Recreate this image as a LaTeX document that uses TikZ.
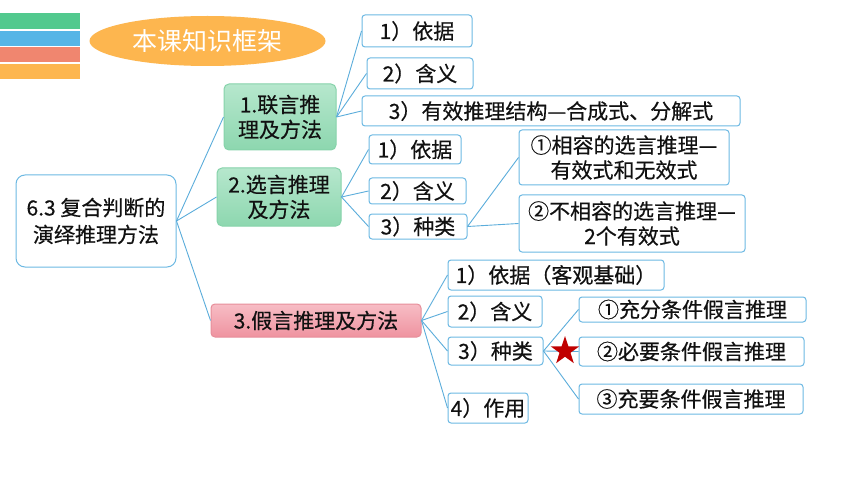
\documentclass[tikz,border=0pt]{standalone}
\usepackage{fontspec}
\setmainfont{Noto Sans CJK SC}
\newfontfamily\bodyfont{Noto Sans CJK SC}[FakeBold=0.4]
\usetikzlibrary{shapes.geometric}
\definecolor{bordblue}{HTML}{6DB9E3}
\definecolor{linkblue}{HTML}{5BADDB}
\definecolor{txt}{HTML}{111111}
\definecolor{barA}{HTML}{52C98E}
\definecolor{barB}{HTML}{56B5E6}
\definecolor{barC}{HTML}{F0866F}
\definecolor{barD}{HTML}{FDB64F}
\definecolor{greenT}{HTML}{B6E7CD}
\definecolor{greenB}{HTML}{8DD7AF}
\definecolor{greenD}{HTML}{86D3AA}
\definecolor{pinkT}{HTML}{F7BDC5}
\definecolor{pinkB}{HTML}{EF93A0}
\definecolor{pinkD}{HTML}{E78E9A}
\definecolor{starred}{HTML}{C00000}
\tikzset{
  leafbox/.style={draw=bordblue, line width=1pt, rounded corners=3pt, fill=white,
    inner sep=0pt, align=center, text=txt, font=\bodyfont\fontsize{21}{25}\selectfont},
  greenbox/.style={draw=greenD, line width=1pt, rounded corners=5pt,
    top color=greenT, bottom color=greenB, inner sep=0pt, align=center, text=txt,
    font=\bodyfont\fontsize{21}{25}\selectfont},
  pinkbox/.style={draw=pinkD, line width=1pt, rounded corners=4pt,
    top color=pinkT, bottom color=pinkB, inner sep=0pt, align=center, text=txt,
    font=\bodyfont\fontsize{21}{25}\selectfont},
  rootbox/.style={draw=bordblue, line width=1pt, rounded corners=9pt, fill=white,
    inner sep=0pt, align=center, text=txt, font=\bodyfont\fontsize{21}{27}\selectfont},
  link/.style={draw=linkblue, line width=0.9pt},
}
\begin{document}
\begin{tikzpicture}[x=1pt,y=-1pt]
\useasboundingbox (0,0) rectangle (860,484);
\fill[white] (0,0) rectangle (860,484);
% colour bars
\fill[barA] (0,13) rectangle (80,29);
\fill[barB] (0,31) rectangle (80,46);
\fill[barC] (0,47.5) rectangle (80,62);
\fill[barD] (0,64) rectangle (80,79);
% title
\node[ellipse, fill=barD, minimum width=236pt, minimum height=50pt, inner sep=0pt,
  text=white, font=\fontsize{25}{28}\selectfont] (title) at (207.5,41) {本课知识框架};
% root and main nodes
\node[rootbox, minimum width=160pt, minimum height=92pt] (root) at (96,221) {6.3 复合判断的\\演绎推理方法};
\node[greenbox, minimum width=112pt, minimum height=66pt] (n1) at (280,117) {1.联言推\\理及方法};
\node[greenbox, minimum width=124pt, minimum height=58pt] (n2) at (279,197) {2.选言推理\\及方法};
\node[pinkbox, minimum width=210pt, minimum height=33pt] (n3) at (316,320.5) {3.假言推理及方法};
% group 1
\node[leafbox, minimum width=110pt, minimum height=32pt] (g1a) at (417,31) {1）依据};
\node[leafbox, minimum width=106pt, minimum height=31pt] (g1b) at (420,73.5) {2）含义};
\node[leafbox, minimum width=378pt, minimum height=30pt] (g1c) at (551,111) {3）有效推理结构—合成式、分解式};
% group 2
\node[leafbox, minimum width=92pt, minimum height=29pt] (g2a) at (415,149.5) {1）依据};
\node[leafbox, minimum width=97pt, minimum height=26pt] (g2b) at (417.5,191) {2）含义};
\node[leafbox, minimum width=98pt, minimum height=25pt] (g2c) at (418,226.5) {3）种类};
\node[leafbox, minimum width=210pt, minimum height=55pt] (g2d) at (624,157.5) {①相容的选言推理—\\有效式和无效式};
\node[leafbox, minimum width=226pt, minimum height=57pt] (g2e) at (632,223.5) {②不相容的选言推理—\\2个有效式};
% group 3
\node[leafbox, minimum width=216pt, minimum height=30pt] (g3a) at (556,275) {1）依据（客观基础）};
\node[leafbox, minimum width=94pt, minimum height=31pt] (g3b) at (495,311.5) {2）含义};
\node[leafbox, minimum width=95pt, minimum height=28pt] (g3c) at (495.5,351) {3）种类};
\node[leafbox, minimum width=80pt, minimum height=30pt] (g3d) at (488,408) {4）作用};
\node[leafbox, minimum width=227pt, minimum height=25pt] (g3e) at (692.5,309.5) {①充分条件假言推理};
\node[leafbox, minimum width=225pt, minimum height=29pt] (g3f) at (691.5,351.5) {②必要条件假言推理};
\node[leafbox, minimum width=224pt, minimum height=30pt] (g3g) at (691,399) {③充要条件假言推理};
% connectors
\draw[link] (root.east) -- (n1.west);
\draw[link] (root.east) -- (n2.west);
\draw[link] (root.east) -- (n3.west);
\draw[link] (n1.east) -- (g1a.west);
\draw[link] (n1.east) -- (g1b.west);
\draw[link] (n1.east) -- (g1c.west);
\draw[link] (n2.east) -- (g2a.west);
\draw[link] (n2.east) -- (g2b.west);
\draw[link] (n2.east) -- (g2c.west);
\draw[link] (g2c.east) -- (g2d.west);
\draw[link] (g2c.east) -- (g2e.west);
\draw[link] (n3.east) -- (g3a.west);
\draw[link] (n3.east) -- (g3b.west);
\draw[link] (n3.east) -- (g3c.west);
\draw[link] (n3.east) -- (g3d.west);
\draw[link] (g3c.east) -- (g3e.west);
\draw[link] (g3c.east) -- (g3f.west);
\draw[link] (g3c.east) -- (g3g.west);
% star
\node[star, star points=5, star point ratio=2.6, fill=starred, minimum size=30pt, inner sep=0pt] (mark1) at (565,351) {};
\end{tikzpicture}
\end{document}
